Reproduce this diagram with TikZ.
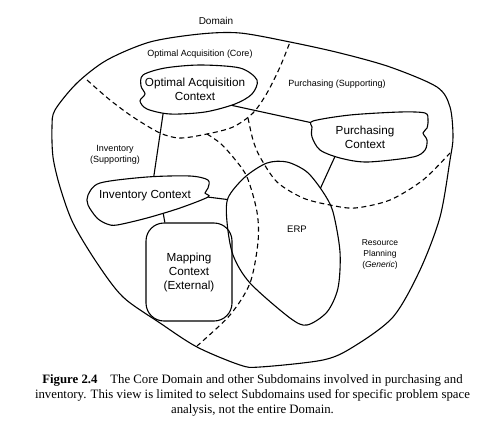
\documentclass[tikz,border=0pt]{standalone}
\usepackage{fontspec}
\setmainfont{Liberation Serif}
\setsansfont{Liberation Sans}
\pgfdeclarelayer{fond}
\pgfsetlayers{fond,main}
\begin{document}
\begin{tikzpicture}[x=1pt,y=-1pt]
% Styles
\tikzstyle{contour}=[line width=1.1pt]
\tikzstyle{frontiere}=[line width=1.1pt,dash pattern=on 5pt off 3.5pt]
\tikzstyle{lien}=[-,line width=1.1pt]
\tikzstyle{nuage}=[line width=1.1pt,fill=white]
\tikzstyle{contexte}=[inner sep=0pt,align=center,font=\sffamily\fontsize{11.7}{14}\selectfont]
\tikzstyle{etiquette}=[inner sep=0pt,align=center,font=\sffamily\fontsize{9}{11}\selectfont]
\tikzstyle{legende}=[inner sep=0pt,align=center,font=\fontsize{12.8}{15}\selectfont]
\useasboundingbox (0,0) rectangle (494,424);
% Etiquettes des sous-domaines
\node[etiquette,font=\sffamily\fontsize{10}{12}\selectfont] (domaine) at (216,21) {Domain};
\node[etiquette] (coeur) at (200,54) {Optimal Acquisition (Core)};
\node[etiquette] (supachat) at (337,84) {Purchasing (Supporting)};
\node[etiquette] (supinv) at (115,154.5) {Inventory\\(Supporting)};
\node[etiquette,font=\sffamily\fontsize{8.5}{11}\selectfont] (generique) at (380,254) {Resource\\Planning\\(\textit{Generic})};
% Contextes
\node[contexte,minimum width=90pt,minimum height=28pt] (oac) at (195,89.5) {Optimal Acquisition\\Context};
\node[contexte,minimum width=90pt,minimum height=28pt] (achat) at (365,137.5) {Purchasing\\Context};
\node[contexte,minimum width=96pt,minimum height=20pt] (inv) at (145,196) {Inventory Context};
\node[contexte,draw,line width=1.1pt,rounded corners=18pt,minimum width=86pt,minimum height=98pt] (carto) at (189,272) {Mapping\\Context\\(External)};
\node[etiquette,font=\sffamily\fontsize{9.5}{11}\selectfont,minimum width=60pt,minimum height=80pt] (erp) at (297,229) {ERP};
% Legende
\node[legende] (legende) at (252.5,395) {\textbf{Figure 2.4}\quad The Core Domain and other Subdomains involved in purchasing and\\inventory. This view is limited to select Subdomains used for specific problem space\\analysis, not the entire Domain.};
\begin{pgfonlayer}{fond}
% Liens
\draw[lien] (oac.205)--(inv.54);
\draw[lien] (oac.334)--(achat.164);
\draw[lien] (achat.207)--(erp.60);
\draw[lien] (inv.1)--(erp.141);
\draw[lien] (inv.329)--(carto.116);
% Nuages
\draw[nuage] plot[smooth cycle] coordinates {(143,75) (165,68) (200,65) (240,68) (257,80) (252,94) (235,104) (205,112) (170,114) (147,109) (140,101) (145,94) (141,86)};
\draw[nuage] plot[smooth cycle] coordinates {(313,121) (350,115) (400,112) (425,113) (428,120) (427,128) (423,133) (427,140) (425,150) (413,157) (367,162) (340,158) (320,150) (312,137) (312,127)};
\draw[nuage] plot[smooth cycle] coordinates {(88,195) (100,183) (147,177) (190,176) (208,180) (208,188) (205,193) (208,197) (180,208) (147,218) (117,225) (107,224) (97,218) (88,205)};
\draw[nuage] plot[smooth cycle] coordinates {(228,198) (245,177) (267,163) (287,162) (307,172) (323,192) (333,212) (340,252) (338,288) (327,312) (307,325) (290,318) (250,283) (233,255) (227,222)};
\end{pgfonlayer}
% Domaine
\draw[contour] plot[smooth cycle] coordinates {(240,33) (290,42) (340,53) (390,67) (437,87) (450,107) (453,137) (450,160) (440,217) (420,270) (393,317) (353,347) (323,360) (260,367) (240,365) (197,347) (160,323) (123,297) (97,263) (73,223) (60,187) (53,157) (52,127) (55,110) (77,83) (107,60) (150,42) (200,34)};
% Frontieres
\draw[frontiere] plot[smooth] coordinates {(87,80) (110,100) (133,117) (160,133) (180,138) (207,134) (233,127) (253,113) (267,93) (280,67) (290,42)};
\draw[frontiere] plot[smooth] coordinates {(248,118) (253,140) (260,157) (277,182) (303,198) (330,205) (355,208) (390,200) (423,180) (450,153)};
\draw[frontiere] plot[smooth] coordinates {(207,134) (220,143) (233,157) (247,177) (257,212) (258,242) (250,283) (230,315) (197,346)};
\end{tikzpicture}
\end{document}
